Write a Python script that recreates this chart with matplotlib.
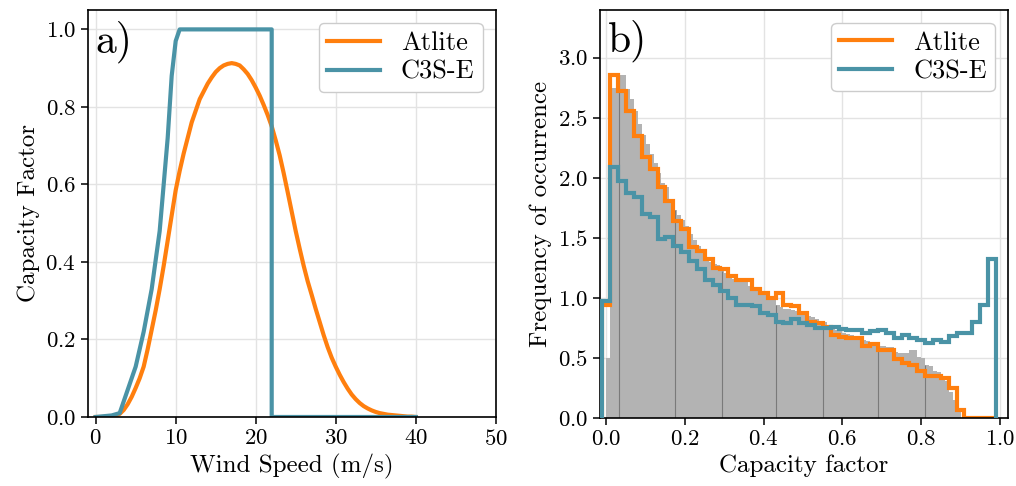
import numpy as np
import matplotlib
matplotlib.use('Agg')
import matplotlib.pyplot as plt

plt.rcParams['font.family'] = 'serif'
plt.rcParams['font.serif'] = ['cmr10']
plt.rcParams['mathtext.fontset'] = 'cm'
plt.rcParams['axes.formatter.use_mathtext'] = True

# power curves (capacity factor vs wind speed)
wind_speed = np.arange(0, 40.01, 0.5)
atlite_curve = [0.0, 0.0, 0.0, 0.0, 0.001, 0.003, 0.008, 0.018, 0.033, 0.052,
                0.075, 0.10, 0.13, 0.175, 0.225, 0.275, 0.33, 0.39, 0.455, 0.52,
                0.585, 0.635, 0.68, 0.72, 0.76, 0.79, 0.82, 0.84, 0.86, 0.876,
                0.89, 0.90, 0.907, 0.911, 0.913, 0.911, 0.907, 0.897, 0.885, 0.869,
                0.85, 0.829, 0.805, 0.779, 0.75, 0.714, 0.675, 0.629, 0.58, 0.53,
                0.48, 0.434, 0.39, 0.35, 0.315, 0.279, 0.245, 0.211, 0.18, 0.153,
                0.13, 0.109, 0.09, 0.073, 0.058, 0.046, 0.036, 0.028, 0.022, 0.017,
                0.013, 0.010, 0.008, 0.006, 0.005, 0.004, 0.003, 0.002, 0.001, 0.001,
                0.0]
c3s_ws = [0, 1, 2, 3, 4, 5, 6, 7, 8, 9, 9.5, 10, 10.5, 22, 22, 40]
c3s_curve = [0.0, 0.002, 0.004, 0.01, 0.07, 0.13, 0.22, 0.33, 0.48, 0.72, 0.88, 0.97,
             1.0, 1.0, 0.0, 0.0]

# histograms of capacity factor (50 bins, -0.01 .. 0.99)
cf_edges = np.linspace(-0.01, 0.99, 51)
atlite_hist = [0.94, 2.86, 2.72, 2.56, 2.35, 2.17, 2.07, 1.92, 1.81, 1.64,
               1.57, 1.42, 1.39, 1.32, 1.25, 1.24, 1.18, 1.15, 1.15, 1.07,
               1.04, 1.00, 1.04, 0.94, 0.93, 0.875, 0.80, 0.79, 0.76, 0.69,
               0.675, 0.67, 0.67, 0.60, 0.62, 0.57, 0.57, 0.49, 0.46, 0.44,
               0.39, 0.35, 0.35, 0.33, 0.25, 0.07, 0.0, 0.0, 0.0, 0.0]
c3s_hist = [0.97, 2.09, 1.97, 1.87, 1.84, 1.70, 1.67, 1.49, 1.51, 1.43,
            1.38, 1.31, 1.24, 1.15, 1.11, 1.06, 1.00, 0.94, 0.94, 0.93,
            0.87, 0.86, 0.80, 0.79, 0.82, 0.79, 0.77, 0.75, 0.75, 0.755,
            0.74, 0.73, 0.73, 0.71, 0.72, 0.73, 0.71, 0.67, 0.69, 0.67,
            0.65, 0.625, 0.65, 0.63, 0.68, 0.71, 0.71, 0.80, 0.94, 1.32]

# grey reference histogram (100 bins, 0 .. 1)
ref_edges = np.linspace(0, 1, 101)
ref_hist = [0.50, 2.75, 2.75, 2.86, 2.86, 2.74, 2.66, 2.56, 2.45, 2.36,
            2.28, 2.20, 2.12, 2.04, 1.96, 1.92, 1.80, 1.73, 1.69, 1.65,
            1.60, 1.53, 1.48, 1.43, 1.39, 1.34, 1.30, 1.28, 1.27, 1.22,
            1.21, 1.20, 1.16, 1.15, 1.14, 1.13, 1.10, 1.09, 1.08, 1.04,
            1.03, 1.01, 0.98, 0.94, 0.92, 0.91, 0.91, 0.90, 0.89, 0.88,
            0.86, 0.85, 0.84, 0.82, 0.81, 0.80, 0.76, 0.74, 0.73, 0.72,
            0.71, 0.70, 0.69, 0.67, 0.66, 0.65, 0.64, 0.63, 0.62, 0.60,
            0.60, 0.59, 0.59, 0.55, 0.54, 0.54, 0.54, 0.57, 0.57, 0.51,
            0.50, 0.44, 0.43, 0.39, 0.38, 0.33, 0.31, 0.22, 0.15, 0.06,
            0, 0, 0, 0, 0, 0, 0, 0, 0, 0]
seams = [0.0326, 0.174, 0.293, 0.430, 0.551, 0.691, 0.810]

orange = '#ff7f0e'
teal = '#4a93a6'

fig = plt.figure(figsize=(10.16, 4.86), dpi=100)
ax1 = fig.add_axes([0.0863, 0.142, 0.4016, 0.8374])
ax2 = fig.add_axes([0.5906, 0.140, 0.4013, 0.8401])

# a) power curves
ax1.plot(wind_speed, atlite_curve, color=orange, lw=3.0, label='Atlite')
ax1.plot(c3s_ws, c3s_curve, color=teal, lw=3.0, label='C3S-E')
ax1.set_xlim(-1, 50)
ax1.set_ylim(0, 1.05)
ax1.set_xticks(np.arange(0, 51, 10))
ax1.set_yticks(np.arange(0, 1.01, 0.2))
ax1.set_xlabel('Wind Speed (m/s)', fontsize=18)
ax1.set_ylabel('Capacity Factor', fontsize=18)
ax1.text(0.02, 0.975, 'a)', transform=ax1.transAxes, fontsize=30, va='top', ha='left')

# b) capacity factor distributions
ax2.stairs(ref_hist, ref_edges, fill=True, color='#b3b3b3', zorder=1)
idx = np.clip((np.array(seams) * 100).astype(int), 0, 99)
ax2.vlines(seams, 0, np.array(ref_hist)[idx], color='#7a7a7a', lw=0.8, zorder=1.5)
ax2.stairs(atlite_hist, cf_edges, color=orange, lw=3.0, baseline=0, label='Atlite', zorder=2)
ax2.stairs(c3s_hist, cf_edges, color=teal, lw=3.0, baseline=0, label='C3S-E', zorder=3)
ax2.set_xlim(-0.016, 1.02)
ax2.set_ylim(0, 3.4)
ax2.set_xticks(np.arange(0, 1.01, 0.2))
ax2.set_yticks(np.arange(0, 3.01, 0.5))
ax2.set_xlabel('Capacity factor', fontsize=18)
ax2.set_ylabel('Frequency of occurrence', fontsize=18)
ax2.text(0.02, 0.975, 'b)', transform=ax2.transAxes, fontsize=30, va='top', ha='left')

for ax in (ax1, ax2):
    ax.grid(True, color='#e3e3e3', lw=1.0)
    ax.set_axisbelow(True)
    ax.tick_params(labelsize=16.5, length=5, width=1.1)
    for s in ax.spines.values():
        s.set_linewidth(1.2)
    ax.legend(loc='upper right', fontsize=19, handlelength=2.0, framealpha=1,
              edgecolor='#cccccc', labelspacing=0.2, borderpad=0.3)

fig.savefig('out.png', dpi=100)
